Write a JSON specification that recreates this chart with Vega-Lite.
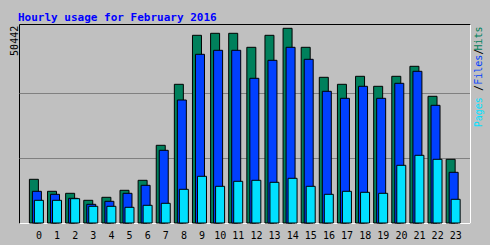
{
  "$schema": "https://vega.github.io/schema/vega-lite/v6.json",
  "width": 451,
  "height": 199,
  "autosize": "none",
  "padding": {"left": 19, "top": 24, "right": 20, "bottom": 22},
  "background": "#C0C0C0",
  "title": {
    "text": "Hourly usage for February 2016",
    "anchor": "start",
    "frame": "group",
    "font": "DejaVu Sans Mono",
    "fontSize": 11,
    "fontWeight": "bold",
    "color": "#0000FF",
    "baseline": "alphabetic",
    "offset": 7,
    "dx": -1,
    "dy": 15
  },
  "config": {
    "view": {"stroke": "#000000", "strokeWidth": 1, "fill": "#C0C0C0"},
    "axis": {"labelFont": "DejaVu Sans Mono", "labelFontSize": 10, "labelColor": "#000000"}
  },
  "data": {
    "values": [
      {"hour": 0, "hits": 11321, "files": 8213, "pages": 5881},
      {"hour": 1, "hits": 8213, "files": 7435, "pages": 5881},
      {"hour": 2, "hits": 7694, "files": 6399, "pages": 6300},
      {"hour": 3, "hits": 5881, "files": 4845, "pages": 4326},
      {"hour": 4, "hits": 6658, "files": 5622, "pages": 4326},
      {"hour": 5, "hits": 8472, "files": 7694, "pages": 4067},
      {"hour": 6, "hits": 11062, "files": 9767, "pages": 4586},
      {"hour": 7, "hits": 20130, "files": 18834, "pages": 5104},
      {"hour": 8, "hits": 35933, "files": 31866, "pages": 8731},
      {"hour": 9, "hits": 48627, "files": 43705, "pages": 12099},
      {"hour": 10, "hits": 49146, "files": 44742, "pages": 9508},
      {"hour": 11, "hits": 49146, "files": 44742, "pages": 10803},
      {"hour": 12, "hits": 45519, "files": 37487, "pages": 11062},
      {"hour": 13, "hits": 48627, "files": 42151, "pages": 10544},
      {"hour": 14, "hits": 50442, "files": 45519, "pages": 11580},
      {"hour": 15, "hits": 45519, "files": 42410, "pages": 9508},
      {"hour": 16, "hits": 37746, "files": 34119, "pages": 7435},
      {"hour": 17, "hits": 35933, "files": 32306, "pages": 8213},
      {"hour": 18, "hits": 38005, "files": 35415, "pages": 7953},
      {"hour": 19, "hits": 35415, "files": 32306, "pages": 7694},
      {"hour": 20, "hits": 38005, "files": 36192, "pages": 14948},
      {"hour": 21, "hits": 40597, "files": 39300, "pages": 17539},
      {"hour": 22, "hits": 32824, "files": 30493, "pages": 16503},
      {"hour": 23, "hits": 16503, "files": 13135, "pages": 6140}
    ]
  },
  "resolve": {"scale": {"y": "independent"}, "axis": {"y": "independent"}},
  "layer": [
    {
      "mark": {"type": "bar", "width": 9, "xOffset": -4.6, "fill": "#00805C", "stroke": "#000000", "strokeWidth": 1},
      "encoding": {
        "x": {
          "field": "hour", "type": "quantitative",
          "scale": {"domain": [-1.076, 23.814], "nice": false, "zero": false, "padding": 0},
          "axis": {"values": [0,1,2,3,4,5,6,7,8,9,10,11,12,13,14,15,16,17,18,19,20,21,22,23], "format": "d", "ticks": false, "grid": false, "domainColor": "#FFFFFF", "labelPadding": 7, "labelFlush": false, "labelOverlap": false, "title": null}
        },
        "y": {
          "field": "hits", "type": "quantitative",
          "scale": {"domain": [0, 51556], "nice": false},
          "axis": {
            "orient": "left",
            "values": [16814, 33628, 50442],
            "format": "d",
            "labelExpr": "datum.value > 50000 ? datum.label : ''",
            "labelAngle": 270,
            "labelAlign": "right",
            "labelBaseline": "alphabetic",
            "labelPadding": 2,
            "labelOffset": -3,
            "labelFlush": false,
            "labelOverlap": false,
            "ticks": false,
            "domain": false,
            "grid": true,
            "gridColor": {"condition": {"test": "datum.value > 50000", "value": "transparent"}, "value": "#808080"},
            "gridWidth": 1,
            "title": null
          }
        }
      }
    },
    {
      "mark": {"type": "bar", "width": 9, "xOffset": -1.6, "fill": "#0040FF", "stroke": "#000000", "strokeWidth": 1},
      "encoding": {
        "x": {
          "field": "hour", "type": "quantitative",
          "scale": {"domain": [-1.076, 23.814], "nice": false, "zero": false, "padding": 0},
          "axis": {"values": [0,1,2,3,4,5,6,7,8,9,10,11,12,13,14,15,16,17,18,19,20,21,22,23], "format": "d", "ticks": false, "grid": false, "domainColor": "#FFFFFF", "labelPadding": 7, "labelFlush": false, "labelOverlap": false, "title": null}
        },
        "y": {
          "field": "files", "type": "quantitative",
          "scale": {"domain": [0, 51556], "nice": false},
          "axis": {
            "orient": "right",
            "values": [28835, 35104, 39845, 44482, 47928],
            "labelExpr": "datum.value > 47000 ? 'Hits' : datum.value > 44000 ? '/' : datum.value > 39000 ? 'Files' : datum.value > 34000 ? '/' : 'Pages'",
            "labelColor": {"condition": [
              {"test": "datum.value > 47000", "value": "#00805C"},
              {"test": "datum.value > 44000", "value": "#000000"},
              {"test": "datum.value > 39000", "value": "#0040FF"},
              {"test": "datum.value > 34000", "value": "#000000"}
            ], "value": "#00E0FF"},
            "labelAngle": 270,
            "labelAlign": "center",
            "labelBaseline": "alphabetic",
            "labelPadding": 11,
            "labelFlush": false,
            "labelOverlap": false,
            "ticks": false,
            "domainColor": "#FFFFFF",
            "grid": false,
            "title": null
          }
        }
      }
    },
    {
      "mark": {"type": "bar", "width": 9, "xOffset": 0.4, "fill": "#00E0FF", "stroke": "#000000", "strokeWidth": 1},
      "encoding": {
        "x": {
          "field": "hour", "type": "quantitative",
          "scale": {"domain": [-1.076, 23.814], "nice": false, "zero": false, "padding": 0},
          "axis": {"values": [0,1,2,3,4,5,6,7,8,9,10,11,12,13,14,15,16,17,18,19,20,21,22,23], "format": "d", "ticks": false, "grid": false, "domainColor": "#FFFFFF", "labelPadding": 7, "labelFlush": false, "labelOverlap": false, "title": null}
        },
        "y": {
          "field": "pages", "type": "quantitative",
          "scale": {"domain": [0, 51556], "nice": false},
          "axis": null
        }
      }
    }
  ]
}
